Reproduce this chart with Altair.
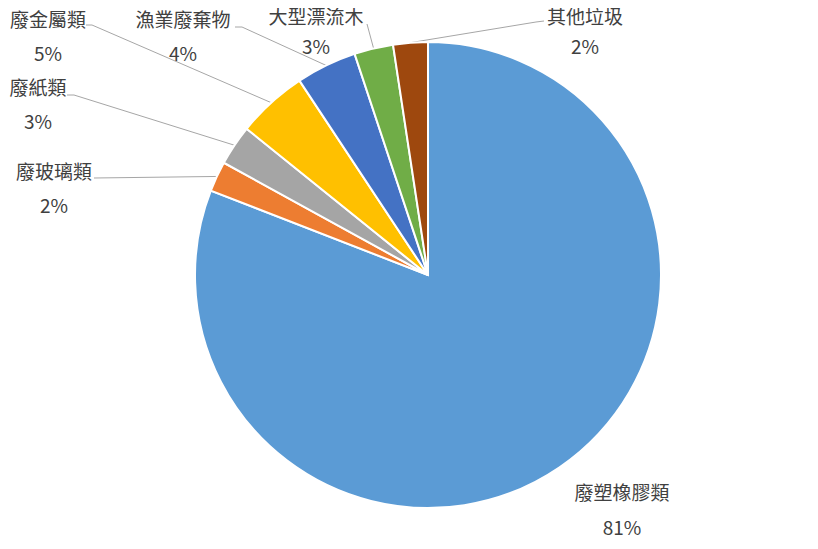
import math

import altair as alt
import pandas as pd

# data, clockwise from 12 o'clock
categories = ["廢塑橡膠類", "廢玻璃類", "廢紙類", "廢金屬類", "漁業廢棄物", "大型漂流木", "其他垃圾"]
shares = [80.9, 2.1, 2.8, 4.9, 4.2, 2.7, 2.4]
colors = ["#5B9BD5", "#ED7D31", "#A5A5A5", "#FFC000", "#4472C4", "#70AD47", "#9E480E"]

# layout (page pixels): pie centre / radius, label centres, leader-line anchors
CX, CY, R = 428, 275, 233
label_pos = [(622, 494), (54, 173), (38, 89), (48, 21), (183, 21), (316, 18), (585, 18)]
pct_gap = [35, 34, 34, 34, 34, 30, 30]
leader_start = [None, [(94, 178)], [(67, 95), (74, 95)], [(86, 25), (92, 25)],
                [(235, 27), (242, 27)], [(367, 24)], [(544, 21), (536, 22)]]
W, H = 802, 533
FONT = "Noto Sans CJK TC"

pie = pd.DataFrame({"category": categories, "share": shares, "idx": range(len(categories))})

texts = []
for cat, v, (lx, ly), gap in zip(categories, shares, label_pos, pct_gap):
    texts.append({"text": cat, "x": lx, "y": ly})
    texts.append({"text": f"{round(v)}%", "x": lx, "y": ly + gap})
text_df = pd.DataFrame(texts)

# leader lines end on the pie rim at each slice's mid angle
lines = []
total = sum(shares)
acc = 0.0
for cat, v, start in zip(categories, shares, leader_start):
    mid = (acc + v / 2) / total * 2 * math.pi
    acc += v
    if start is None:
        continue
    pts = list(start) + [(CX + R * math.sin(mid), CY - R * math.cos(mid))]
    for k, (px, py) in enumerate(pts):
        lines.append({"category": cat, "k": k, "x": px, "y": py})
line_df = pd.DataFrame(lines)

xs = alt.Scale(domain=[8, 8 + W])
ys = alt.Scale(domain=[8, 8 + H], reverse=True)

arcs = alt.Chart(pie).mark_arc(outerRadius=R, stroke="white", strokeWidth=2).encode(
    theta=alt.Theta("share:Q", stack=True),
    order=alt.Order("idx:Q"),
    color=alt.Color("category:N", scale=alt.Scale(domain=categories, range=colors), legend=None),
    x=alt.value(CX - 8),
    y=alt.value(CY - 8),
)

leaders = alt.Chart(line_df).mark_line(color="#A6A6A6", strokeWidth=1).encode(
    x=alt.X("x:Q", scale=xs, axis=None),
    y=alt.Y("y:Q", scale=ys, axis=None),
    detail="category:N",
    order="k:Q",
)

labels = alt.Chart(text_df).mark_text(
    font=FONT, fontSize=19, color="#404040", align="center", baseline="middle"
).encode(
    x=alt.X("x:Q", scale=xs, axis=None),
    y=alt.Y("y:Q", scale=ys, axis=None),
    text="text:N",
)

chart = alt.layer(leaders, arcs, labels).properties(
    width=W, height=H, padding=0, autosize=alt.AutoSizeParams(type="none")
).configure_view(strokeWidth=0)

chart.save("out.html", embed_options={"renderer": "svg", "actions": False})
